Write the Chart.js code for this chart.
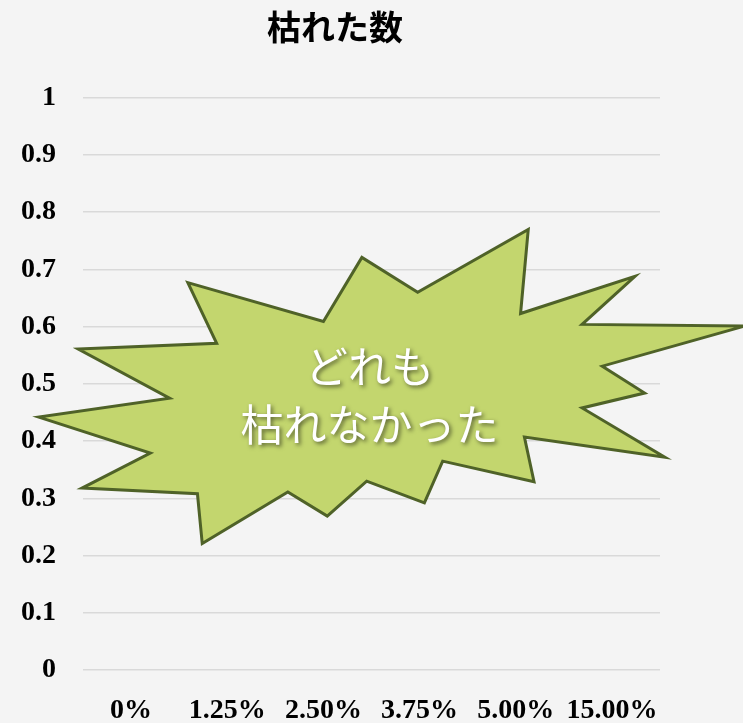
<!DOCTYPE html>
<html lang="ja">
<head>
<meta charset="utf-8">
<title>枯れた数</title>
<script src="https://cdn.jsdelivr.net/npm/chart.js@4/dist/chart.umd.min.js"></script>
<style>
    html, body { margin: 0; padding: 0; background: #f4f4f4; }
    #wrap { width: 743px; height: 723px; }
</style>
</head>
<body>
<div id="wrap"><canvas id="kareChart" width="743" height="723"></canvas></div>
<script>
// 濃度ごとのカテゴリと枯れた数
const categories = ['0%', '1.25%', '2.50%', '3.75%', '5.00%', '15.00%'];
const witheredCounts = [0, 0, 0, 0, 0, 0];

// 吹き出し(爆発形)の頂点: x はカテゴリ位置, y は軸の値
const burstX = [0.59, 2.00, 2.40, 2.98, 4.13, 4.05, 5.24, 4.69, 6.38, 4.90, 5.34, 4.69, 5.55, 4.09,
                4.19, 3.24, 3.05, 2.45, 2.04, 1.63, 0.74, 0.69, -0.51, 0.20, -0.96, 0.40, -0.55, 0.89];
const burstY = [0.677, 0.609, 0.721, 0.660, 0.770, 0.623, 0.688, 0.604, 0.601, 0.531, 0.484, 0.458, 0.372, 0.407,
                0.329, 0.365, 0.292, 0.330, 0.269, 0.311, 0.221, 0.308, 0.318, 0.379, 0.442, 0.475, 0.561, 0.571];
const calloutLines = ['どれも', '枯れなかった'];
const calloutX = 2.48;
const calloutY = [0.53, 0.428];

// 吹き出しを描くプラグイン
const burstPlugin = {
    id: 'burst',
    afterDatasetsDraw(chart) {
        const ctx = chart.ctx;
        const xs = chart.scales.x;
        const ys = chart.scales.y;
        ctx.save();
        ctx.beginPath();
        burstX.forEach((v, i) => {
            const px = xs.getPixelForValue(v);
            const py = ys.getPixelForValue(burstY[i]);
            if (i === 0) ctx.moveTo(px, py); else ctx.lineTo(px, py);
        });
        ctx.closePath();
        ctx.fillStyle = '#c3d66e';
        ctx.fill();
        ctx.lineWidth = 3;
        ctx.lineJoin = 'miter';
        ctx.strokeStyle = '#4f6228';
        ctx.stroke();

        // 白文字 + 影
        ctx.font = '43px "Noto Sans CJK JP"';
        ctx.textAlign = 'center';
        ctx.textBaseline = 'middle';
        ctx.fillStyle = '#ffffff';
        ctx.shadowColor = 'rgba(0, 0, 0, 0.55)';
        ctx.shadowBlur = 4;
        ctx.shadowOffsetX = 2;
        ctx.shadowOffsetY = 2;
        calloutLines.forEach((t, i) => {
            ctx.fillText(t, xs.getPixelForValue(calloutX), ys.getPixelForValue(calloutY[i]));
        });
        ctx.restore();
    }
};

const tickFont = { family: '"Liberation Serif"', size: 28, weight: 'bold' };

const config = {
    type: 'bar',
    data: {
        labels: categories,
        datasets: [{
            label: '枯れた数',
            data: witheredCounts,
            backgroundColor: '#4f81bd',
            borderWidth: 0
        }]
    },
    options: {
        responsive: false,
        animation: false,
        layout: {
            padding: { left: 10, right: 83, top: 0, bottom: 0 }
        },
        plugins: {
            legend: { display: false },
            tooltip: { enabled: false },
            title: {
                display: true,
                text: '枯れた数',
                color: '#000000',
                font: { family: '"Noto Sans CJK JP"', size: 34, weight: 'bold' },
                padding: { top: 7, bottom: 50 }
            }
        },
        scales: {
            x: {
                afterFit(scale) { scale.height = 53; },
                grid: { display: false },
                border: { display: false },
                ticks: {
                    color: '#000000',
                    padding: 16,
                    maxRotation: 0,
                    font: tickFont
                }
            },
            y: {
                min: 0,
                max: 1,
                afterFit(scale) { scale.width = 73; },
                grid: { color: '#d9d9d9', lineWidth: 1.5, drawTicks: false },
                border: { display: false },
                ticks: {
                    stepSize: 0.1,
                    color: '#000000',
                    padding: 27,
                    font: tickFont,
                    callback: (v) => String(Math.round(v * 10) / 10)
                }
            }
        }
    },
    plugins: [burstPlugin]
};

const kareChart = new Chart(document.getElementById('kareChart').getContext('2d'), config);
</script>
</body>
</html>
